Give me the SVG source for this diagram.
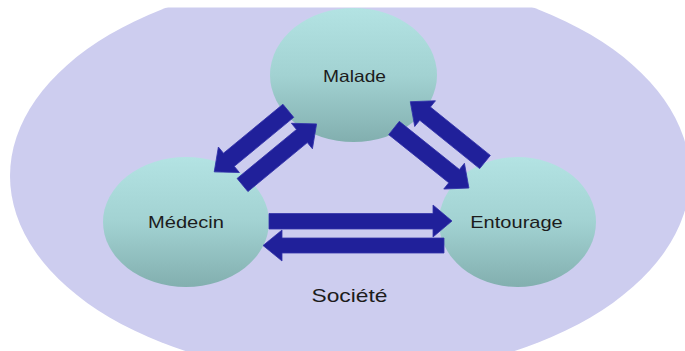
<svg xmlns="http://www.w3.org/2000/svg" width="685" height="351" viewBox="0 0 685 351">
  <defs>
    <linearGradient id="ball" x1="0" y1="0" x2="0" y2="1">
      <stop offset="0" stop-color="#b3e3e3"/>
      <stop offset="0.5" stop-color="#a2d2d2"/>
      <stop offset="1" stop-color="#82afaf"/>
    </linearGradient>
    <path id="arrow" d="M0,-8.5 H77 V-16.5 L96,0 L77,16.5 V8.5 H0 Z"/>
    <clipPath id="pageclip">
      <rect x="0" y="7.5" width="685" height="343.5"/>
    </clipPath>
    <style>
      .node { fill: url(#ball); }
      .label { font-family: "Liberation Sans", Arial, sans-serif; fill: #1c1c1c; text-anchor: middle; }
      .conn { fill: #20209a; stroke: #3333aa; stroke-width: 0.8; stroke-linejoin: miter; }
    </style>
  </defs>
  <rect x="0" y="0" width="685" height="351" fill="#ffffff"/>
  <g clip-path="url(#pageclip)">
    <g id="societe">
      <ellipse cx="350" cy="176" rx="340" ry="200" fill="#cdcdef"/>
      <text class="label" x="349.5" y="302" font-size="19" textLength="76" lengthAdjust="spacingAndGlyphs">Société</text>
    </g>
    <g id="malade">
      <ellipse class="node" cx="353.5" cy="75" rx="83.5" ry="67"/>
      <text class="label" x="354.5" y="81.5" font-size="16.5" textLength="63" lengthAdjust="spacingAndGlyphs">Malade</text>
    </g>
    <g id="medecin">
      <ellipse class="node" cx="186" cy="222" rx="83" ry="65"/>
      <text class="label" x="186" y="228.3" font-size="17" textLength="76" lengthAdjust="spacingAndGlyphs">Médecin</text>
    </g>
    <g id="entourage">
      <ellipse class="node" cx="517.5" cy="222" rx="78.5" ry="65"/>
      <text class="label" x="516.5" y="228.3" font-size="17" textLength="92.5" lengthAdjust="spacingAndGlyphs">Entourage</text>
    </g>
    <g id="connectors">
      <path class="conn" d="M269,213.5 H433 V205 L452,221 L433,237 V229 H269 Z"/>
      <path class="conn" d="M444,238 H282 V230 L263,245.5 L282,261 V253 H444 Z"/>
      <use class="conn" href="#arrow" transform="translate(288.3,110.8) rotate(140.5)"/>
      <use class="conn" href="#arrow" transform="translate(242.5,185) rotate(-39.5)"/>
      <use class="conn" href="#arrow" transform="translate(485,162) rotate(-141.1)"/>
      <use class="conn" href="#arrow" transform="translate(394,128) rotate(38.7)"/>
    </g>
  </g>
</svg>
